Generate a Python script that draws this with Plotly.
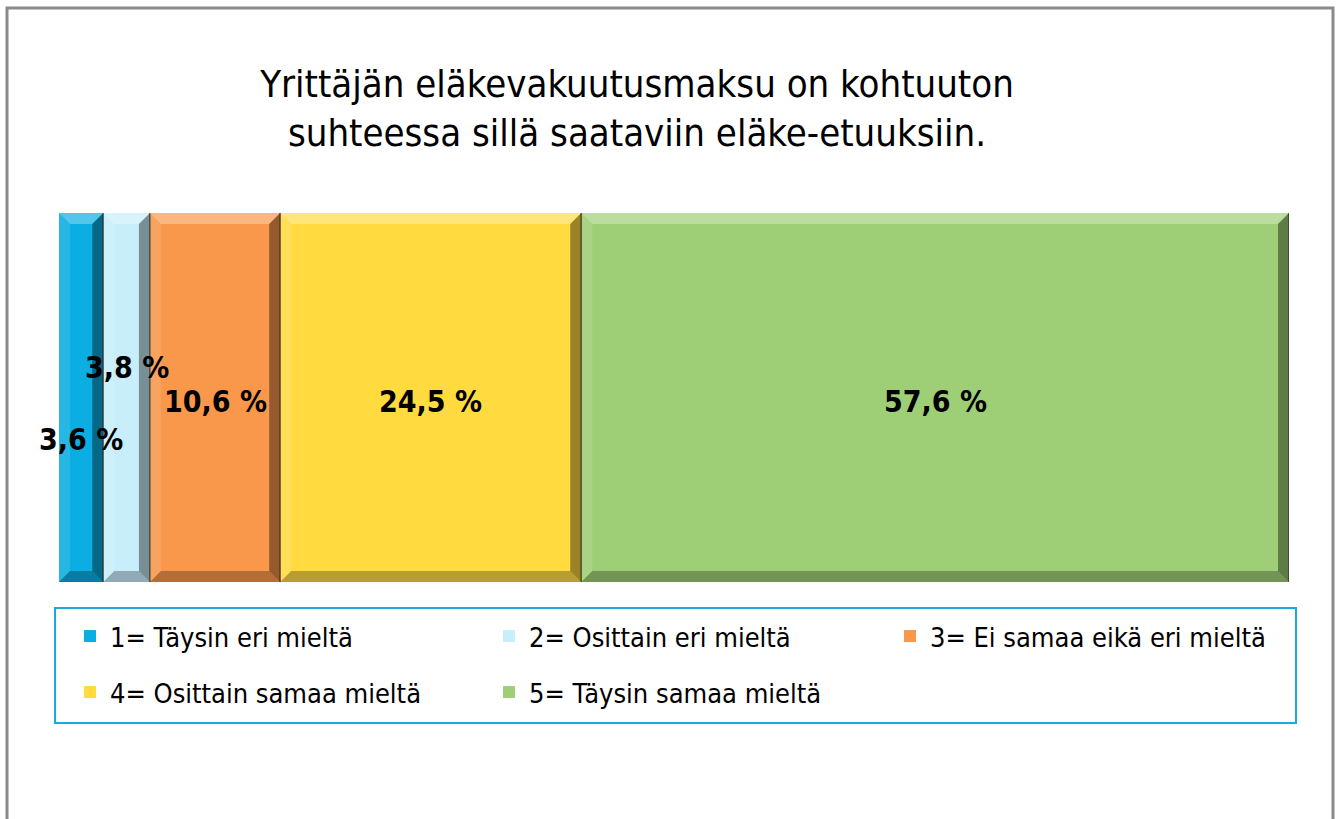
import plotly.graph_objects as go

categories = ["1= Täysin eri mieltä", "2= Osittain eri mieltä", "3= Ei samaa eikä eri mieltä",
              "4= Osittain samaa mieltä", "5= Täysin samaa mieltä"]
values = [3.6, 3.8, 10.6, 24.5, 57.6]
colors = ["#0AAEE2", "#C8EEFB", "#F9974B", "#FFDB40", "#9ECF76"]
title_text = "Yrittäjän eläkevakuutusmaksu on kohtuuton<br>suhteessa sillä saataviin eläke-etuuksiin."

W, H = 1338, 819
ML, MR, MT, MB = 59, 49, 213, 237
PW, PH = W - ML - MR, H - MT - MB
FONT = "DejaVu Sans Condensed, Liberation Sans Narrow, Tahoma, DejaVu Sans, sans-serif"

total = sum(values)
legend_names = ["legend", "legend2", "legend3", "legend4", "legend5"]
fig = go.Figure()
for c, v, col, lg in zip(categories, values, colors, legend_names):
    fig.add_trace(go.Bar(
        x=[v], y=[0], orientation="h", name=c, marker=dict(color=col, line=dict(width=0)),
        width=1, legend=lg, showlegend=True, hoverinfo="skip"))

# bevel shapes derived from cumulative data
bx = 11 * total / PW
by = 11 / PH
shapes = []
cum = 0
for v in values:
    x0, x1 = cum, cum + v
    cum = x1
    t, b = 0.5, -0.5
    polys = [
        ([(x0, t), (x1, t), (x1 - bx, t - by), (x0 + bx, t - by)], "rgba(255,255,255,0.30)"),
        ([(x0, t), (x0 + bx, t - by), (x0 + bx, b + by), (x0, b)], "rgba(255,255,255,0.12)"),
        ([(x1, t), (x1, b), (x1 - bx, b + by), (x1 - bx, t - by)], "rgba(0,0,0,0.40)"),
        ([(x0, b), (x1, b), (x1 - bx, b + by), (x0 + bx, b + by)], "rgba(0,0,0,0.28)"),
    ]
    for pts, fc in polys:
        path = "M " + " L ".join(f"{px},{py}" for px, py in pts) + " Z"
        shapes.append(dict(type="path", path=path, xref="x", yref="y", fillcolor=fc,
                           line=dict(width=0), layer="above"))
    shapes.append(dict(type="line", x0=x1, x1=x1, y0=-0.5, y1=0.5, xref="x", yref="y",
                       line=dict(color="rgba(40,30,20,0.7)", width=1.5), layer="above"))

def px2paper_x(p):
    return (p - ML) / PW

def px2paper_y(p):
    return 1 - (p - MT) / PH

# outer frame
shapes.append(dict(type="rect", xref="paper", yref="paper",
                   x0=px2paper_x(7), x1=px2paper_x(1333), y0=px2paper_y(830), y1=px2paper_y(8),
                   line=dict(color="#8A8A8A", width=3), fillcolor="rgba(0,0,0,0)", layer="below"))
# legend box
shapes.append(dict(type="rect", xref="paper", yref="paper",
                   x0=px2paper_x(55), x1=px2paper_x(1296), y0=px2paper_y(723), y1=px2paper_y(608),
                   line=dict(color="#1BA8DC", width=2), fillcolor="rgba(0,0,0,0)", layer="below"))

# data labels
annotations = []
cum = 0
yshifts = [-42, 30, -4, -4, -4]
for v, ys in zip(values, yshifts):
    mid = cum + v / 2
    cum += v
    annotations.append(dict(x=mid, y=0, xref="x", yref="y", showarrow=False,
                            text="<b>" + f"{v:.1f}".replace(".", ",") + " %</b>",
                            yshift=ys, font=dict(size=30, color="black", family=FONT)))

legend_pos = [(70, 612), (489, 612), (890, 612), (70, 668), (489, 668)]
legend_layout = {}
for lg, (lx, ly) in zip(legend_names, legend_pos):
    legend_layout[lg] = dict(orientation="h", xref="container", yref="container",
                             x=lx / W, y=1 - ly / H, xanchor="left", yanchor="top",
                             bgcolor="rgba(0,0,0,0)", traceorder="normal",
                             font=dict(size=27, color="black", family=FONT), itemclick=False)

fig.update_layout(
    width=W, height=H, autosize=False,
    margin=dict(l=ML, r=MR, t=MT, b=MB),
    paper_bgcolor="white", plot_bgcolor="white",
    barmode="stack", bargap=0,
    title=dict(text=title_text, x=637 / W, xanchor="center", xref="container",
               y=1 - 97 / H, yanchor="top", yref="container",
               font=dict(size=38, color="black", family=FONT)),
    xaxis=dict(range=[0, total], visible=False, fixedrange=True),
    yaxis=dict(range=[-0.5, 0.5], visible=False, fixedrange=True),
    shapes=shapes, annotations=annotations,
    font=dict(family=FONT),
    **legend_layout,
)

fig.write_html("out.html", config={"displayModeBar": False},
               post_script="document.body.style.margin='0px';document.body.style.overflow='hidden';")
